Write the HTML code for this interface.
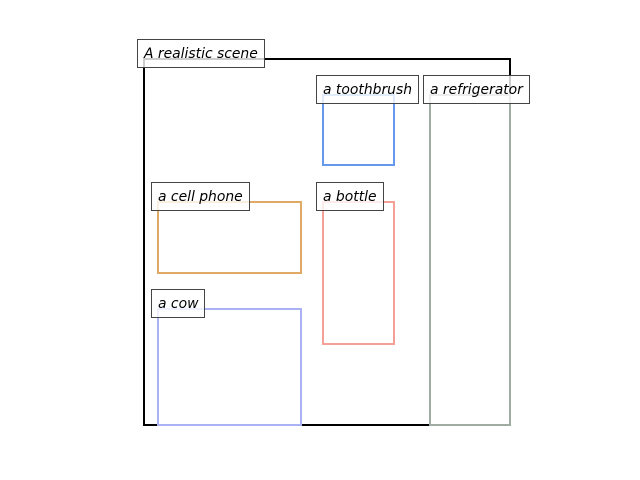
<!DOCTYPE html>
<html><head><meta charset="utf-8"><style>
html,body{margin:0;padding:0;background:#fff;width:640px;height:480px;overflow:hidden}
svg text{font-family:"DejaVu Sans","Liberation Sans",sans-serif;font-style:italic;font-size:13.9px;fill:#000}
</style></head><body>
<svg id="chart" width="640" height="480"></svg>
<script>
const labels = ["A realistic scene","a toothbrush","a refrigerator","a cell phone","a bottle","a cow"];
const x0s = [0,250,400,20,250,20];
const y0s = [0,50,50,200,200,350];
const x1s = [512,350,512,220,350,220];
const y1s = [512,148,512,300,398,512];
const colors = ["#000000","#6699ee","#a0aba2","#e0aa66","#f4a096","#aab2f4"];
const names = ["scene-box","toothbrush-box","refrigerator-box","cell-phone-box","bottle-box","cow-box"];
const svg = document.getElementById('chart');
const NS = "http://www.w3.org/2000/svg";
const sx = v => Math.round(144 + v * 366 / 512);
const sy = v => Math.round(59 + v * 366 / 512);
const boxes = document.createElementNS(NS,'g');
const lbls = document.createElementNS(NS,'g');
svg.appendChild(boxes); svg.appendChild(lbls);
for (let i = 0; i < labels.length; i++) {
  const r = document.createElementNS(NS,'rect');
  
  
  r.setAttribute('x', sx(x0s[i])); r.setAttribute('y', sy(y0s[i]));
  r.setAttribute('width', sx(x1s[i]) - sx(x0s[i])); r.setAttribute('height', sy(y1s[i]) - sy(y0s[i]));
  r.setAttribute('fill','none'); r.setAttribute('stroke', colors[i]); r.setAttribute('stroke-width', 2);
  boxes.appendChild(r);
  const g = document.createElementNS(NS,'g');
  
  
  const t = document.createElementNS(NS,'text');
  t.textContent = labels[i];
  t.setAttribute('x', sx(x0s[i])); t.setAttribute('y', sy(y0s[i]) - 1);
  lbls.appendChild(g);
  const bg = document.createElementNS(NS,'rect');
  g.appendChild(bg); g.appendChild(t);
  const w = t.getComputedTextLength();
  const bx = sx(x0s[i]) - 6.5, by = sy(y0s[i]) - 19.5;
  bg.setAttribute('x', bx); bg.setAttribute('y', by);
  bg.setAttribute('width', Math.round(w + 13)); bg.setAttribute('height', 28);
  bg.setAttribute('fill', 'rgba(255,255,255,0.8)'); bg.setAttribute('stroke', '#444'); bg.setAttribute('stroke-width', 1);
}
</script>
</body></html>
